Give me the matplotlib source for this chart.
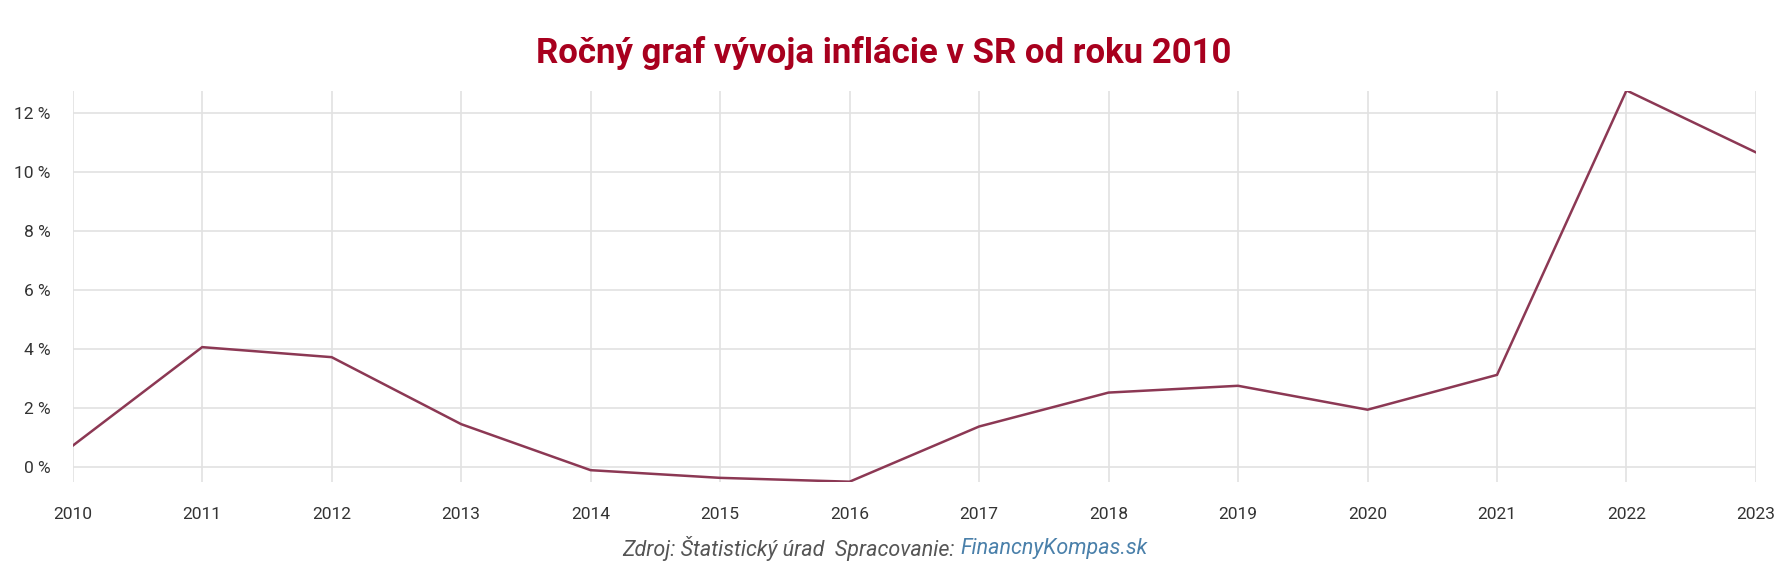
import matplotlib
matplotlib.use("Agg")
import matplotlib.pyplot as plt
from matplotlib.ticker import FuncFormatter

# data
years = [2010, 2011, 2012, 2013, 2014, 2015, 2016, 2017, 2018, 2019, 2020, 2021, 2022, 2023]
inflation = [0.73, 4.07, 3.73, 1.46, -0.10, -0.36, -0.49, 1.38, 2.53, 2.76, 1.95, 3.13, 12.77, 10.67]
y_ticks = [0, 2, 4, 6, 8, 10, 12]

title = "Ročný graf vývoja inflácie v SR od roku 2010"
source_txt = "Zdroj: Štatistický úrad  Spracovanie: "
source_link = "FinancnyKompas.sk"

plt.rcParams['font.family'] = ['Roboto', 'DejaVu Sans']

fig = plt.figure(figsize=(17.82, 5.86), dpi=100)
ax = fig.add_axes([0.0408, 0.1775, 0.9446, 0.6672])

ax.plot(years, inflation, color='#8c3854', linewidth=1.8, solid_joinstyle='miter')

ax.set_xlim(2010, 2023)
ax.set_ylim(-0.5, 12.75)
ax.set_xticks(years)
ax.set_yticks(y_ticks)
ax.yaxis.set_major_formatter(FuncFormatter(lambda v, p: f"{v:.0f} %"))
ax.grid(True, color='#e2e2e2', linewidth=1.2)
ax.set_axisbelow(True)
for s in ax.spines.values():
    s.set_visible(False)
ax.tick_params(axis='both', length=0, labelsize=12.5, labelcolor='#333333')
ax.tick_params(axis='x', pad=18)
ax.tick_params(axis='y', pad=16)

fig.text(0.496, 0.893, title, ha='center', va='baseline', fontsize=25,
         fontweight='bold', color='#a8001e')

# source line: grey text followed by blue link, centred as a whole
r = fig.canvas.get_renderer()
t1 = fig.text(0, 0.0648, source_txt, ha='left', va='center', fontsize=15.5,
              style='italic', color='#555555')
t2 = fig.text(0, 0.0648, source_link, ha='left', va='center', fontsize=15.5,
              style='italic', color='#4a80aa')
w1 = t1.get_window_extent(r).width / fig.bbox.width
w2 = t2.get_window_extent(r).width / fig.bbox.width
x0 = 0.4965 - (w1 + w2) / 2
t1.set_x(x0)
t2.set_x(x0 + w1)

fig.savefig("out.png", dpi=100, facecolor='white')
